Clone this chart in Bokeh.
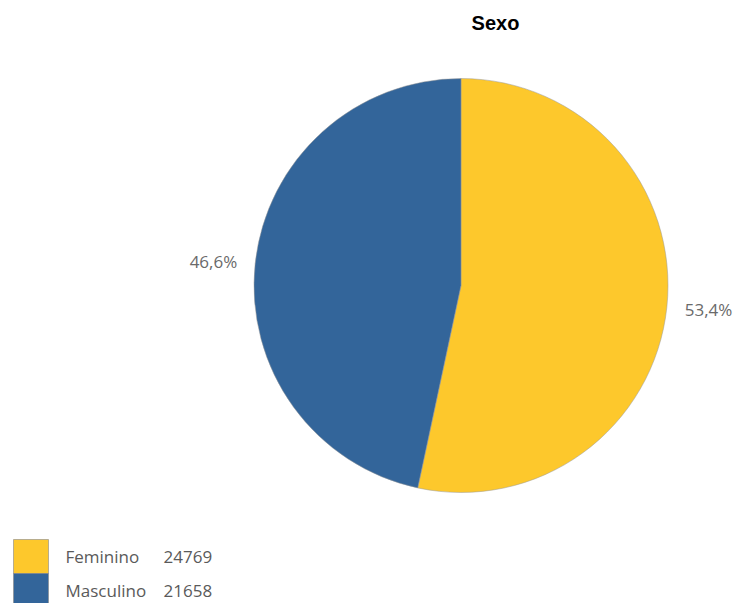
import math
from bokeh.plotting import figure
from bokeh.models import Range1d, ColumnDataSource
from bokeh.core.properties import value
from bokeh.embed import file_html
from bokeh.resources import INLINE

# ---- data ----
title_text = "Sexo"
categories = ["Feminino", "Masculino"]
counts = [24769, 21658]
colors = ["#FDC82C", "#33659A"]

# ---- layout (pixel space, y measured downward from top of figure) ----
W, H = 736, 603
cx, cy_top, R = 460.5, 285.0, 207.0
label_r = R + 18


def Y(y_top):
    return H - y_top


total = sum(counts)
fracs = [c / total for c in counts]
starts, ends, mids = [], [], []
a = math.pi / 2
for f in fracs:
    starts.append(a)
    b = a - 2 * math.pi * f
    ends.append(b)
    mids.append((a + b) / 2)
    a = b

p = figure(width=W, height=H, output_backend="svg", toolbar_location=None,
           x_range=Range1d(0, W), y_range=Range1d(0, H),
           min_border=0, outline_line_color=None)
p.axis.visible = False
p.grid.visible = False
p.background_fill_color = "white"
p.border_fill_color = "white"

src = ColumnDataSource(dict(x=[cx] * len(counts), y=[Y(cy_top)] * len(counts),
                            start=starts, end=ends, color=colors))
p.wedge(x="x", y="y", radius=R, start_angle="start", end_angle="end",
        direction="clock", fill_color="color", line_color="#9a9a9a",
        line_alpha=0.5, line_width=1, source=src)

# percentage labels
lx, ly, ltxt, lalign = [], [], [], []
for f, m in zip(fracs, mids):
    x = cx + label_r * math.cos(m)
    y = Y(cy_top) + label_r * math.sin(m)
    lx.append(x)
    ly.append(y)
    ltxt.append(f"{f * 100:.1f}".replace(".", ",") + "%")
    lalign.append("left" if math.cos(m) >= 0 else "right")
p.text(x=lx, y=ly, text=ltxt, text_align=lalign, text_baseline="middle",
       text_font=value("Open Sans"), text_font_size="17px", text_color="#6a6a6a")

# title
p.text(x=[495], y=[Y(22)], text=[title_text], text_align="center",
       text_baseline="middle", text_font=value("Liberation Sans"),
       text_font_style="bold", text_font_size="20px", text_color="#000000")

# legend
sw_x0, sw_w, sw_h, sw_y0 = 13, 35, 34, 539
ys = [sw_y0 + i * sw_h for i in range(len(categories))]
p.quad(left=[sw_x0] * len(categories), right=[sw_x0 + sw_w] * len(categories),
       top=[Y(y) for y in ys], bottom=[Y(y + sw_h) for y in ys],
       fill_color=colors, line_color="#888888", line_alpha=0.6, line_width=1)
p.text(x=[65] * len(categories), y=[Y(y + sw_h / 2) for y in ys], text=categories,
       text_align="left", text_baseline="middle", text_font=value("Open Sans"),
       text_font_size="17px", text_color="#5a5a5a")
p.text(x=[163] * len(categories), y=[Y(y + sw_h / 2) for y in ys],
       text=[str(c) for c in counts], text_align="left", text_baseline="middle",
       text_font=value("Open Sans"), text_font_size="17px", text_color="#5a5a5a")

open("out.html", "w").write(file_html(p, INLINE))
